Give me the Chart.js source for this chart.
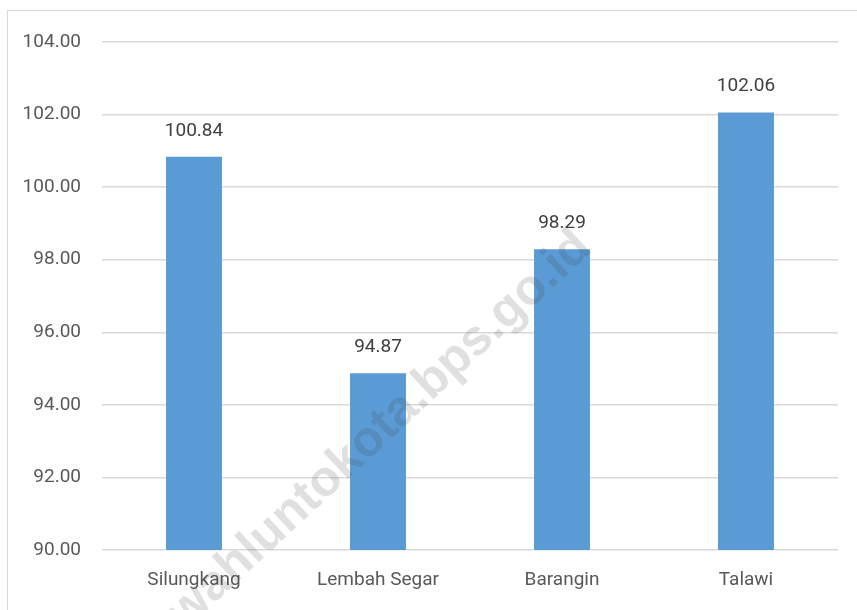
<!DOCTYPE html>
<html>
<head>
<meta charset="utf-8">
<script src="https://cdn.jsdelivr.net/npm/chart.js@4/dist/chart.umd.min.js"></script>
<style>
    html, body { margin: 0; padding: 0; background: #fff; overflow: hidden; }
    #wrap { position: relative; width: 857px; height: 610px; }
    #frame { position: absolute; left: 7px; top: 10px; width: 900px; height: 700px; border: 1px solid #d9d9d9; box-sizing: border-box; }
    canvas { position: absolute; left: 0; top: 0; }
</style>
</head>
<body>
<div id="wrap">
    <div id="frame"></div>
    <canvas id="chart" width="857" height="610"></canvas>
</div>
<script>
// data
const kecamatan = ['Silungkang', 'Lembah Segar', 'Barangin', 'Talawi'];
const nilai = [100.84, 94.87, 98.29, 102.06];
const yMin = 90;
const yMax = 104;
const yStep = 2;
const watermark = 'sawahluntokota.bps.go.id';

const fontFamily = 'Roboto, "Open Sans", sans-serif';

// value labels above the bars
const barLabels = {
    id: 'barLabels',
    afterDatasetsDraw(chart) {
        const ctx = chart.ctx;
        const meta = chart.getDatasetMeta(0);
        ctx.save();
        ctx.font = '19px ' + fontFamily;
        ctx.fillStyle = '#404040';
        ctx.textAlign = 'center';
        ctx.textBaseline = 'alphabetic';
        meta.data.forEach((bar, i) => {
            ctx.fillText(nilai[i].toFixed(2), bar.x, bar.y - 21);
        });
        ctx.restore();
    }
};

// faint diagonal watermark
const watermarkText = {
    id: 'watermarkText',
    afterDraw(chart) {
        const ctx = chart.ctx;
        ctx.save();
        ctx.translate(584, 240);
        ctx.rotate(-43 * Math.PI / 180);
        ctx.font = 'bold 50px "Liberation Sans", Arial, sans-serif';
        ctx.fillStyle = 'rgba(60, 60, 60, 0.16)';
        ctx.textAlign = 'right';
        ctx.textBaseline = 'middle';
        ctx.fillText(watermark, 0, 0);
        ctx.restore();
    }
};

new Chart(document.getElementById('chart'), {
    type: 'bar',
    data: {
        labels: kecamatan,
        datasets: [{
            data: nilai,
            backgroundColor: '#5B9BD5',
            borderWidth: 0,
            categoryPercentage: 1,
            barPercentage: 0.304
        }]
    },
    options: {
        responsive: false,
        animation: false,
        layout: { padding: { left: 0, right: 19, top: 42, bottom: 0 } },
        plugins: {
            legend: { display: false },
            tooltip: { enabled: false }
        },
        scales: {
            x: {
                grid: { display: false, drawTicks: false },
                border: { display: false },
                ticks: {
                    color: '#595959',
                    font: { family: fontFamily, size: 19 },
                    padding: 19,
                    maxRotation: 0
                },
                afterFit(scale) { scale.height = 60; }
            },
            y: {
                min: yMin,
                max: yMax,
                grid: { color: '#d9d9d9', lineWidth: 1.5, drawTicks: false },
                border: { display: false },
                ticks: {
                    stepSize: yStep,
                    color: '#595959',
                    font: { family: fontFamily, size: 19 },
                    padding: 21,
                    callback: v => Number(v).toFixed(2)
                },
                afterFit(scale) { scale.width = 102; }
            }
        }
    },
    plugins: [barLabels, watermarkText]
});
</script>
</body>
</html>
